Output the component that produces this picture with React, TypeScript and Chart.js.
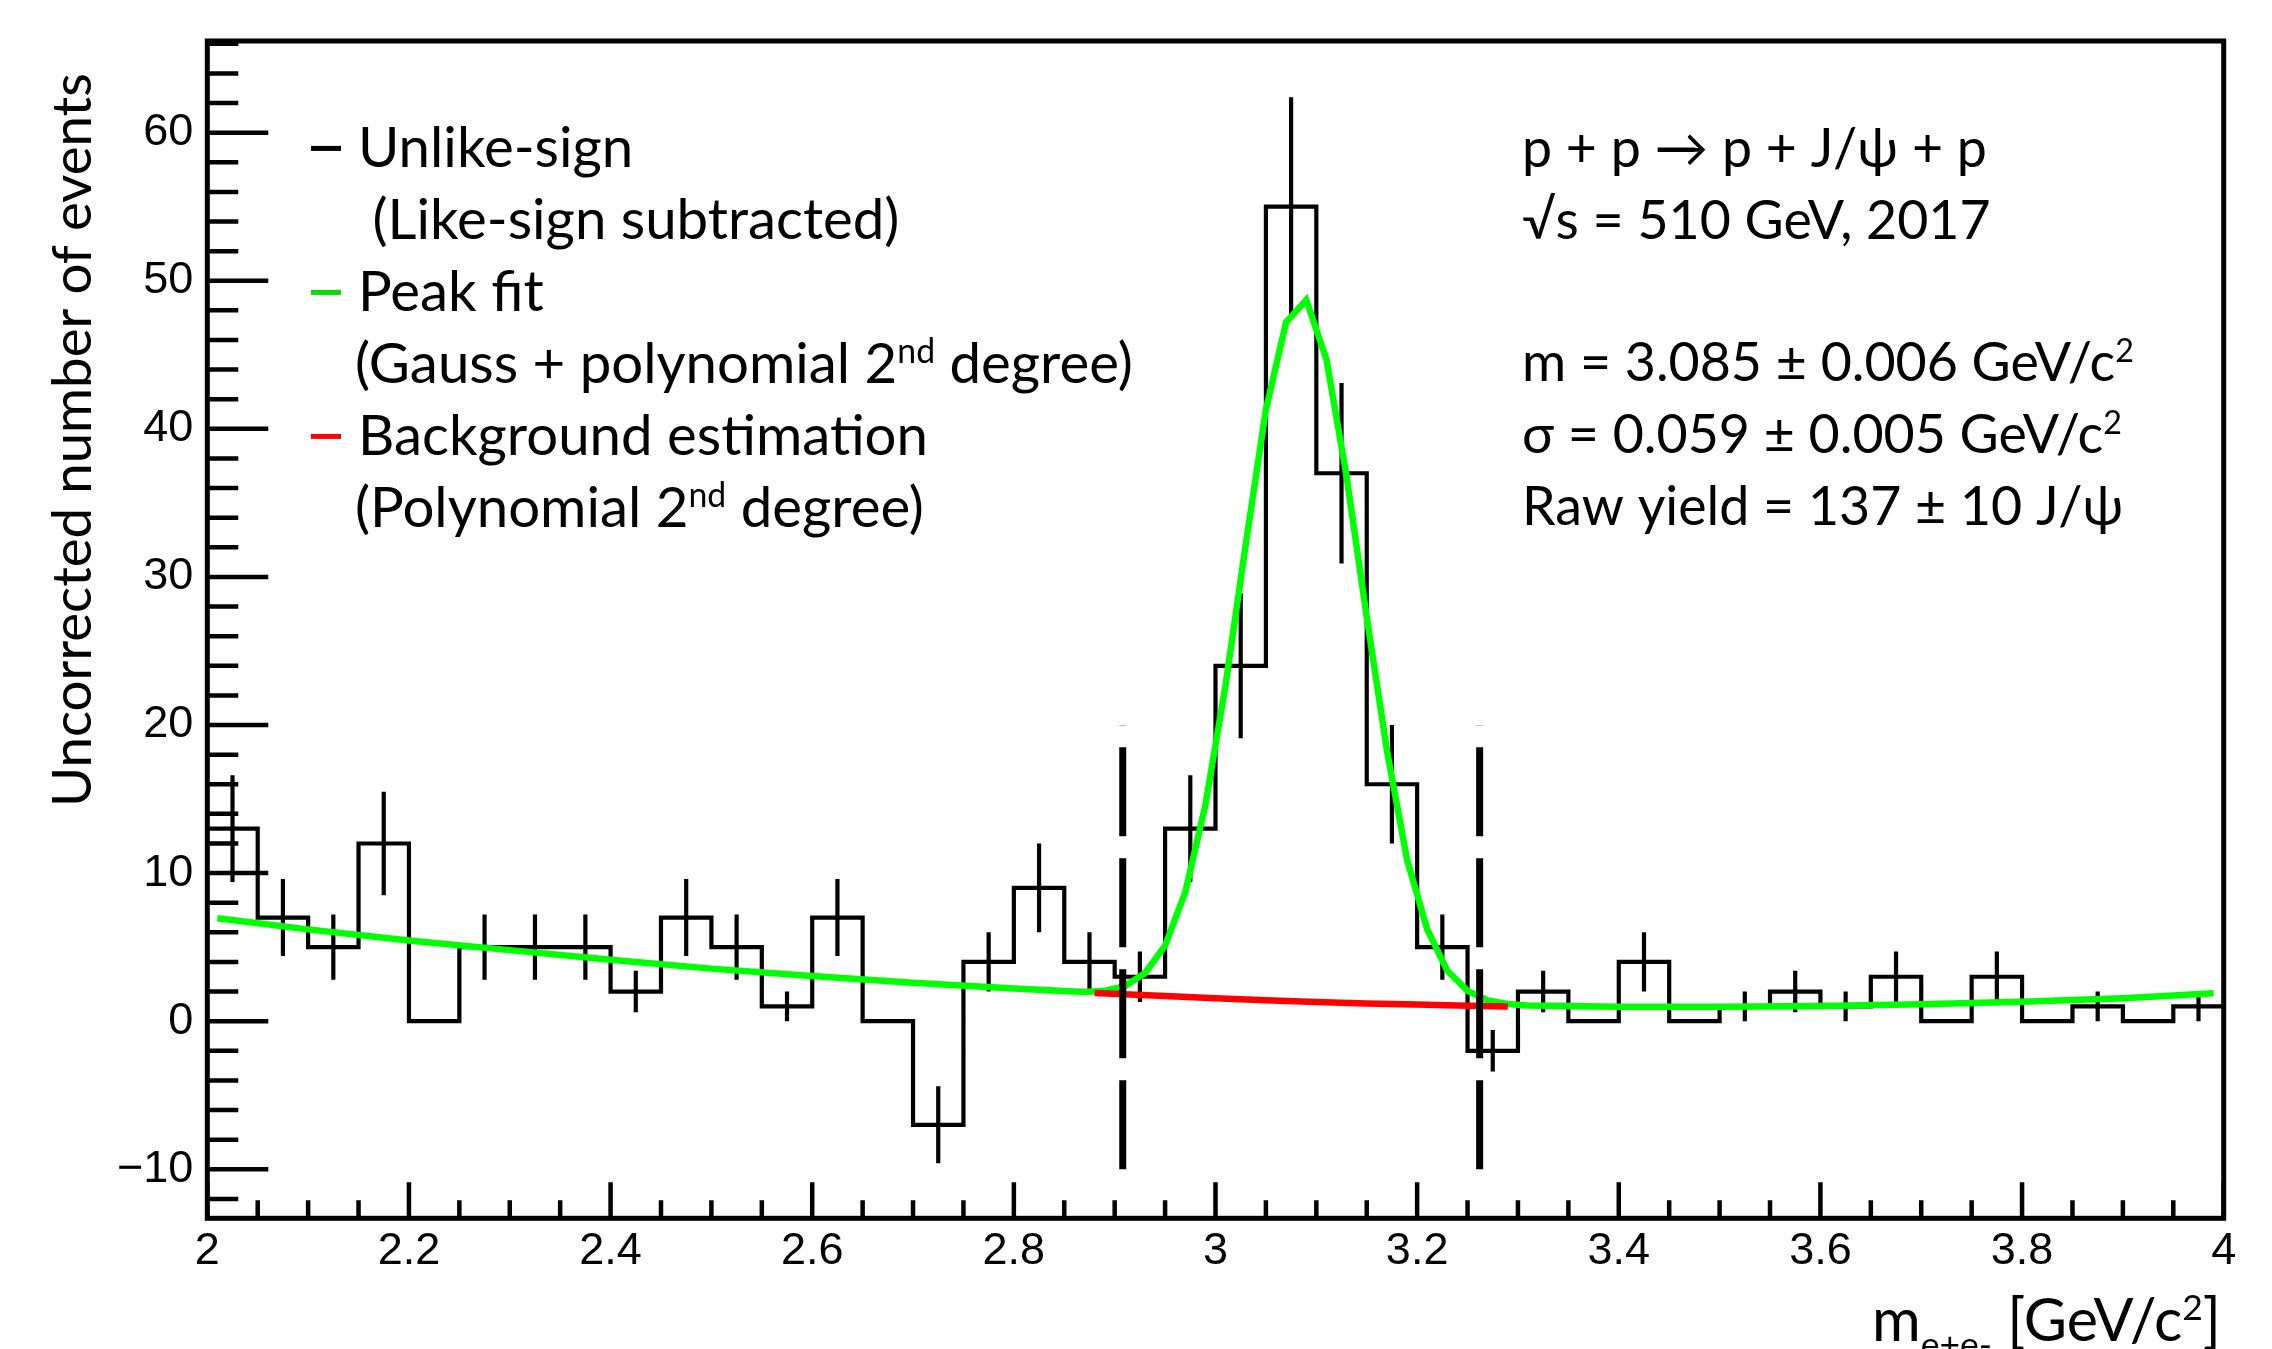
import React, { useEffect, useRef } from 'react';
import { Chart, registerables } from 'chart.js';

Chart.register(...registerables);

// ---------------- data ----------------
const binLowEdges = [
  2.0, 2.05, 2.1, 2.15, 2.2, 2.25, 2.3, 2.35, 2.4, 2.45,
  2.5, 2.55, 2.6, 2.65, 2.7, 2.75, 2.8, 2.85, 2.9, 2.95,
  3.0, 3.05, 3.1, 3.15, 3.2, 3.25, 3.3, 3.35, 3.4, 3.45,
  3.5, 3.55, 3.6, 3.65, 3.7, 3.75, 3.8, 3.85, 3.9, 3.95,
];
const binWidth = 0.05;
const counts = [
  13, 7, 5, 12, 0, 5, 5, 5, 2, 7,
  5, 1, 7, 0, -7, 4, 9, 4, 3, 13,
  24, 55, 37, 16, 5, -2, 2, 0, 4, 0,
  1, 2, 1, 3, 0, 3, 0, 1, 0, 1,
];
const countErrors = [
  3.6, 2.6, 2.2, 3.5, 0, 2.2, 2.2, 2.2, 1.4, 2.6,
  2.2, 1.0, 2.6, 0, 2.6, 2.0, 3.0, 2.0, 1.7, 3.6,
  4.9, 7.4, 6.1, 4.0, 2.2, 1.4, 1.4, 0, 2.0, 0,
  1.0, 1.4, 1.0, 1.7, 0, 1.7, 0, 1.0, 0, 1.0,
];

// peak fit (green), sampled from the drawn curve
const fitX = [
  2.01, 2.1, 2.2, 2.3, 2.4, 2.5, 2.6, 2.7, 2.8, 2.87,
  2.89, 2.91, 2.93, 2.95, 2.97, 2.99, 3.01, 3.03, 3.05, 3.07,
  3.09, 3.11, 3.13, 3.15, 3.17, 3.19, 3.21, 3.23, 3.25, 3.27,
  3.29, 3.31, 3.4, 3.5, 3.6, 3.7, 3.8, 3.9, 3.99,
];
const fitY = [
  6.95, 6.2, 5.45, 4.8, 4.15, 3.55, 3.05, 2.6, 2.2, 1.98,
  2.05, 2.37, 3.24, 5.1, 8.7, 14.6, 22.7, 32.2, 41.3, 47.2,
  48.7, 44.7, 36.8, 27.3, 18.3, 10.9, 6.2, 3.4, 2.05, 1.4,
  1.16, 1.06, 0.98, 0.98, 1.03, 1.15, 1.32, 1.55, 1.88,
];

// background estimation (red) under the peak
const bkgX = [2.88, 2.95, 3.0, 3.05, 3.1, 3.15, 3.2, 3.25, 3.29];
const bkgY = [1.9, 1.7, 1.55, 1.42, 1.3, 1.2, 1.12, 1.05, 1.0];

// signal window (dashed lines)
const windowEdges = [2.908, 3.262];
const windowYRange = [-10, 20];

// axes
const xRange = [2, 4];
const yRange = [-13.31, 66.19];
const xTickValues = [2, 2.2, 2.4, 2.6, 2.8, 3, 3.2, 3.4, 3.6, 3.8, 4];
const xTickLabels = ['2', '2.2', '2.4', '2.6', '2.8', '3', '3.2', '3.4', '3.6', '3.8', '4'];
const yTickValues = [-10, 0, 10, 20, 30, 40, 50, 60];
const yTickLabels = ['\u221210', '0', '10', '20', '30', '40', '50', '60'];

// texts
type Seg = { t: string; s?: 'sup' | 'sub' };
const legendLines: Seg[][] = [
  [{ t: 'Unlike-sign' }],
  [{ t: ' (Like-sign subtracted)' }],
  [{ t: 'Peak fit' }],
  [{ t: '(Gauss + polynomial 2' }, { t: 'nd', s: 'sup' }, { t: ' degree)' }],
  [{ t: 'Background estimation' }],
  [{ t: '(Polynomial 2' }, { t: 'nd', s: 'sup' }, { t: ' degree)' }],
];
const legendMarkerColors = ['#000000', null, '#00e000', null, '#ff0000', null];
const infoLines: Seg[][] = [
  [{ t: 'p + p \u2192 p + J/\u03c8 + p' }],
  [{ t: '\u221as = 510 GeV, 2017' }],
  [{ t: 'm = 3.085 \u00b1 0.006 GeV/c' }, { t: '2', s: 'sup' }],
  [{ t: '\u03c3 = 0.059 \u00b1 0.005 GeV/c' }, { t: '2', s: 'sup' }],
  [{ t: 'Raw yield = 137 \u00b1 10 J/\u03c8' }],
];
const yTitle: Seg[] = [{ t: 'Uncorrected number of events' }];
const xTitle: Seg[] = [{ t: 'm' }, { t: 'e+e-', s: 'sub' }, { t: ' [GeV/c' }, { t: '2', s: 'sup' }, { t: ']' }];

const TEXT_FONT = "Lato, 'Open Sans', 'DejaVu Sans', sans-serif";
const TICK_FONT = "'Liberation Sans', Arial, sans-serif";

// ---------------- helpers ----------------
function segFont(seg: Seg, size: number) {
  const fs = seg.s ? size * 0.6 : size;
  return `${fs}px ${TEXT_FONT}`;
}
function richWidth(ctx: CanvasRenderingContext2D, segs: Seg[], size: number) {
  let w = 0;
  for (const seg of segs) {
    ctx.font = segFont(seg, size);
    w += ctx.measureText(seg.t).width;
  }
  return w;
}
function drawRich(ctx: CanvasRenderingContext2D, segs: Seg[], x: number, y: number, size: number) {
  let cx = x;
  for (const seg of segs) {
    ctx.font = segFont(seg, size);
    const dy = seg.s === 'sup' ? -0.36 * size : seg.s === 'sub' ? 0.27 * size : 0;
    ctx.fillText(seg.t, cx, y + dy);
    cx += ctx.measureText(seg.t).width;
  }
  return cx - x;
}
function fitSize(ctx: CanvasRenderingContext2D, segs: Seg[], target: number) {
  const w = richWidth(ctx, segs, 100);
  return (100 * target) / w;
}

const rootFramePlugin = {
  id: 'rootFrame',
  afterDatasetsDraw(chart: any) {
    const { ctx, chartArea: a, scales } = chart;
    const xs = scales.x;
    const ys = scales.y;
    ctx.save();
    ctx.strokeStyle = '#000';
    ctx.lineCap = 'butt';
    ctx.lineWidth = 4.5;
    ctx.beginPath();
    for (let k = -6; k <= 33; k++) {
      const v = 2 * k;
      const py = ys.getPixelForValue(v);
      if (py < a.top - 0.5 || py > a.bottom + 0.5) continue;
      const len = v % 10 === 0 ? 61 : 31;
      ctx.moveTo(a.left, py);
      ctx.lineTo(a.left + len, py);
    }
    for (let k = 0; k <= 40; k++) {
      const v = 2 + 0.05 * k;
      const px = xs.getPixelForValue(v);
      const len = k % 4 === 0 ? 36 : 18;
      ctx.moveTo(px, a.bottom);
      ctx.lineTo(px, a.bottom - len);
    }
    ctx.stroke();
    ctx.lineWidth = 5;
    ctx.strokeRect(a.left, a.top, a.right - a.left, a.bottom - a.top);
    ctx.restore();
  },
  afterDraw(chart: any) {
    const { ctx } = chart;
    ctx.save();
    ctx.fillStyle = '#000';
    ctx.textBaseline = 'alphabetic';
    ctx.textAlign = 'left';

    // legend block
    const sL = fitSize(ctx, legendLines[3], 778);
    const legendBase = [167, 239, 311, 383, 455, 527];
    const legendX = [358, 358, 358, 355, 358, 355];
    legendLines.forEach((segs, i) => {
      drawRich(ctx, segs, legendX[i], legendBase[i], sL);
      const c = legendMarkerColors[i];
      if (c) {
        ctx.strokeStyle = c;
        ctx.lineWidth = 5;
        ctx.beginPath();
        const my = legendBase[i] - 0.33 * sL;
        ctx.moveTo(311, my);
        ctx.lineTo(341, my);
        ctx.stroke();
      }
    });

    // info block
    const sI = fitSize(ctx, infoLines[2], 612);
    const infoBase = [167, 239, 381, 453, 525];
    infoLines.forEach((segs, i) => {
      drawRich(ctx, segs, 1522, infoBase[i], sI);
    });

    // y title
    const sY = fitSize(ctx, yTitle, 734);
    ctx.save();
    ctx.translate(91, 440);
    ctx.rotate(-Math.PI / 2);
    const wY = richWidth(ctx, yTitle, sY);
    drawRich(ctx, yTitle, -wY / 2, 0, sY);
    ctx.restore();

    // x title
    const sX = fitSize(ctx, xTitle, 349);
    drawRich(ctx, xTitle, 1872, 1341, sX);

    ctx.restore();
  },
};

export default function App() {
  const canvasRef = useRef<HTMLCanvasElement | null>(null);

  useEffect(() => {
    const canvas = canvasRef.current;
    if (!canvas) return;

    const histPoints = binLowEdges.map((x, i) => ({ x, y: counts[i] }));
    histPoints.push({ x: binLowEdges[binLowEdges.length - 1] + binWidth, y: counts[counts.length - 1] });

    const errPoints: { x: number; y: number | null }[] = [];
    binLowEdges.forEach((x, i) => {
      const e = countErrors[i];
      if (e > 0) {
        const c = x + binWidth / 2;
        errPoints.push({ x: c, y: counts[i] - e });
        errPoints.push({ x: c, y: counts[i] + e });
        errPoints.push({ x: c, y: null });
      }
    });

    const fitPoints = fitX.map((x, i) => ({ x, y: fitY[i] }));
    const bkgPoints = bkgX.map((x, i) => ({ x, y: bkgY[i] }));

    const windowSets = windowEdges.map((x) => ({
      label: 'window',
      data: [
        { x, y: windowYRange[0] },
        { x, y: windowYRange[1] },
      ],
      borderColor: '#000',
      borderWidth: 7,
      borderDash: [89, 22],
      pointRadius: 0,
      tension: 0,
      order: 0,
    }));

    const chart = new Chart(canvas, {
      type: 'line',
      data: {
        datasets: [
          ...windowSets,
          {
            label: 'Background estimation',
            data: bkgPoints,
            borderColor: '#ff0000',
            borderWidth: 6.5,
            pointRadius: 0,
            tension: 0,
            order: 1,
          },
          {
            label: 'Peak fit',
            data: fitPoints,
            borderColor: '#00ff00',
            borderWidth: 6.5,
            pointRadius: 0,
            tension: 0,
            order: 2,
          },
          {
            label: 'errors',
            data: errPoints,
            borderColor: '#000',
            borderWidth: 4.2,
            pointRadius: 0,
            spanGaps: false,
            tension: 0,
            order: 3,
          },
          {
            label: 'Unlike-sign',
            data: histPoints,
            borderColor: '#000',
            borderWidth: 4.2,
            pointRadius: 0,
            stepped: 'before',
            tension: 0,
            order: 4,
          },
        ],
      } as any,
      options: {
        animation: false,
        responsive: false,
        maintainAspectRatio: false,
        events: [],
        layout: { padding: { left: 0, top: 40, right: 48.3, bottom: 0 } },
        plugins: {
          legend: { display: false },
          tooltip: { enabled: false },
          title: { display: false },
        },
        scales: {
          x: {
            type: 'linear',
            min: xRange[0],
            max: xRange[1],
            grid: { display: false, drawTicks: false },
            border: { display: false },
            ticks: {
              color: '#000',
              padding: 6,
              maxRotation: 0,
              autoSkip: false,
              font: { family: TICK_FONT, size: 45 },
              callback: (v: any) => {
                const i = xTickValues.findIndex((t) => Math.abs(t - Number(v)) < 1e-9);
                return i >= 0 ? xTickLabels[i] : '';
              },
            },
            afterBuildTicks: (s: any) => {
              s.ticks = xTickValues.map((v) => ({ value: v }));
            },
            afterFit: (s: any) => {
              s.height = 130.7;
            },
          },
          y: {
            type: 'linear',
            min: yRange[0],
            max: yRange[1],
            grid: { display: false, drawTicks: false },
            border: { display: false },
            ticks: {
              color: '#000',
              padding: 14,
              autoSkip: false,
              font: { family: TICK_FONT, size: 45 },
              callback: (v: any) => {
                const i = yTickValues.findIndex((t) => Math.abs(t - Number(v)) < 1e-9);
                return i >= 0 ? yTickLabels[i] : '';
              },
            },
            afterBuildTicks: (s: any) => {
              s.ticks = yTickValues.map((v) => ({ value: v }));
            },
            afterFit: (s: any) => {
              s.width = 207.3;
            },
          },
        },
      } as any,
      plugins: [rootFramePlugin],
    });

    let alive = true;
    if ((document as any).fonts) {
      Promise.all([
        document.fonts.load(`55px Lato`),
        document.fonts.load(`45px "Liberation Sans"`),
      ])
        .then(() => {
          if (alive) chart.update();
        })
        .catch(() => {});
    }

    return () => {
      alive = false;
      chart.destroy();
    };
  }, []);

  return (
    <div style={{ position: 'fixed', left: 0, top: 0, width: 2272, height: 1349, background: '#fff' }}>
      <canvas ref={canvasRef} width={2272} height={1349} style={{ display: 'block', width: 2272, height: 1349 }} />
    </div>
  );
}
